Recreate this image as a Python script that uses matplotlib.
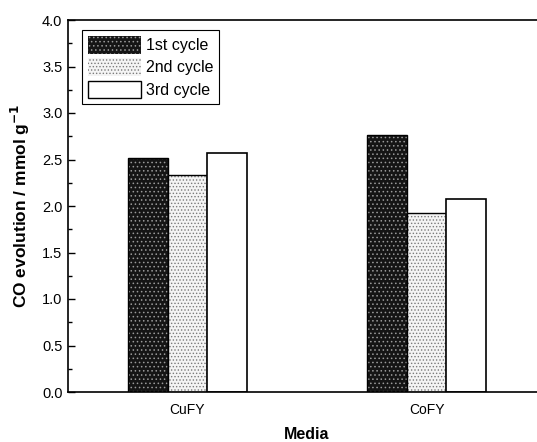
import matplotlib.pyplot as plt
import matplotlib.patches as mpatches
import numpy as np
from matplotlib.ticker import MultipleLocator, FormatStrFormatter

plt.rcParams['font.family'] = ['Liberation Sans', 'DejaVu Sans']
plt.rcParams['hatch.linewidth'] = 0.6

media = ['CuFY', 'CoFY']
cycles = ['1st cycle', '2nd cycle', '3rd cycle']
cycle1 = [2.52, 2.76]
cycle2 = [2.33, 1.92]
cycle3 = [2.57, 2.07]

fig = plt.figure(figsize=(5.37, 4.42), dpi=100)
ax = fig.add_axes([68/537, 50/442, 478/537, 372/442])

x = np.arange(len(media))
w = 0.167

# 1st cycle: dark fill with light speckle
ax.bar(x - w, cycle1, w, color='#151515', edgecolor='#9a9a9a', hatch='....', linewidth=0)
ax.bar(x - w, cycle1, w, facecolor='none', edgecolor='black', linewidth=1.0)
# 2nd cycle: light dotted grey
ax.bar(x, cycle2, w, color='#f4f4f4', edgecolor='#7a7a7a', hatch='.....', linewidth=0)
ax.bar(x, cycle2, w, facecolor='none', edgecolor='black', linewidth=1.0)
# 3rd cycle: white
ax.bar(x + w, cycle3, w, color='white', edgecolor='black', linewidth=1.2)

# legend proxies
h1 = mpatches.Patch(facecolor='#151515', edgecolor='#9a9a9a', hatch='....', linewidth=0)
h2 = mpatches.Patch(facecolor='#f4f4f4', edgecolor='#7a7a7a', hatch='.....', linewidth=0)
h3 = mpatches.Patch(facecolor='white', edgecolor='black', linewidth=1.0)
leg = ax.legend([h1, h2, h3], cycles, loc='upper left', bbox_to_anchor=(0.012, 0.995),
                fontsize=11.5, handlelength=3.3, handleheight=1.3, handletextpad=0.3,
                labelspacing=0.3, borderpad=0.4, fancybox=False, framealpha=1)
leg.get_frame().set_edgecolor('black')
leg.get_frame().set_linewidth(0.8)

ax.set_xlim(-0.5, 1.5)
ax.set_ylim(0, 4.0)
ax.set_xticks(x)
ax.set_xticklabels(media, fontsize=10)
ax.tick_params(axis='x', length=0, pad=8)
ax.yaxis.set_major_locator(MultipleLocator(0.5))
ax.yaxis.set_minor_locator(MultipleLocator(0.25))
ax.yaxis.set_major_formatter(FormatStrFormatter('%.1f'))
ax.tick_params(axis='y', which='major', direction='in', length=5, width=1, labelsize=10.5, pad=4)
ax.tick_params(axis='y', which='minor', direction='in', length=3, width=1)
for s in ax.spines.values():
    s.set_linewidth(1.2)

ax.set_xlabel('Media', fontsize=11.5, fontweight='bold', labelpad=7)
ax.set_ylabel('CO evolution / mmol g$^{\\mathbf{-1}}$', fontsize=12.5, fontweight='bold', labelpad=7)

fig.savefig('out.png', dpi=100)
